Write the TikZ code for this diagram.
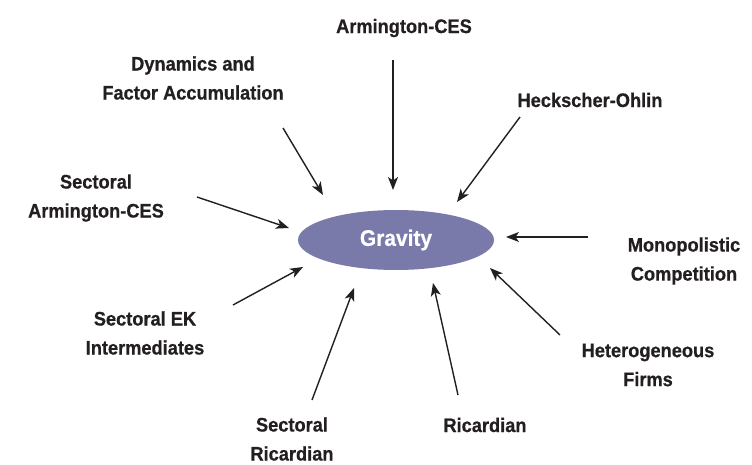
\documentclass[tikz,border=0pt]{standalone}
\usepackage{fontspec}
\setmainfont[FakeStretch=0.93, BoldFeatures={FakeBold=0.6}]{Liberation Sans}
\usepackage{tikz}
\usetikzlibrary{arrows.meta, positioning, shapes.geometric}
\definecolor{gravblue}{RGB}{122,122,170}
\definecolor{inktext}{RGB}{35,31,32}

\begin{document}
\begin{tikzpicture}[
    x=1pt, y=-1pt,
    model/.style={
        align=center, text=inktext,
        font=\fontsize{19.6}{29}\selectfont\bfseries,
        inner sep=0pt
    },
    core/.style={
        ellipse, fill=gravblue, draw=none,
        minimum width=196pt, minimum height=60pt,
        text=white, font=\fontsize{22.5}{26}\selectfont\bfseries
    },
    arr/.style={-{Stealth[length=13pt, width=10pt, inset=3.5pt]}, line width=1.4pt, inktext}
]
\useasboundingbox (0,0) rectangle (752,465);

% Gravity
\node[core] (gravity) at (396,240) {Gravity};

% models round it
\node[model] (arm) at (404,28) {Armington-CES};
\node[model] (dyn) at (193,78) {Dynamics and\\Factor Accumulation};
\node[model] (ho) at (590,100) {Heckscher-Ohlin};
\node[model] (sarm) at (96,198) {Sectoral\\Armington-CES};
\node[model] (mono) at (684,261) {Monopolistic\\Competition};
\node[model] (sek) at (145,333) {Sectoral EK\\Intermediates};
\node[model] (het) at (648,365) {Heterogeneous\\Firms};
\node[model] (sric) at (292,439) {Sectoral\\Ricardian};
\node[model] (ric) at (485,425) {Ricardian};

% arrow ends
\coordinate (armT) at (393,60);   \coordinate (armH) at (393,190);
\coordinate (dynT) at (283,128);  \coordinate (dynH) at (323,195);
\coordinate (hoT) at (520,117);   \coordinate (hoH) at (457,202);
\coordinate (sarmT) at (197,197); \coordinate (sarmH) at (289,228);
\coordinate (monoT) at (588,237); \coordinate (monoH) at (506,237);
\coordinate (sekT) at (233,305);  \coordinate (sekH) at (303,267);
\coordinate (hetT) at (560,335);  \coordinate (hetH) at (490,268);
\coordinate (sricT) at (312,400); \coordinate (sricH) at (354,288);
\coordinate (ricT) at (458,395);  \coordinate (ricH) at (433,283);

% Arrows
\draw[arr] (armT) -- (armH);
\draw[arr] (dynT) -- (dynH);
\draw[arr] (hoT) -- (hoH);
\draw[arr] (sarmT) -- (sarmH);
\draw[arr] (monoT) -- (monoH);
\draw[arr] (sekT) -- (sekH);
\draw[arr] (hetT) -- (hetH);
\draw[arr] (sricT) -- (sricH);
\draw[arr] (ricT) -- (ricH);

\end{tikzpicture}
\end{document}
